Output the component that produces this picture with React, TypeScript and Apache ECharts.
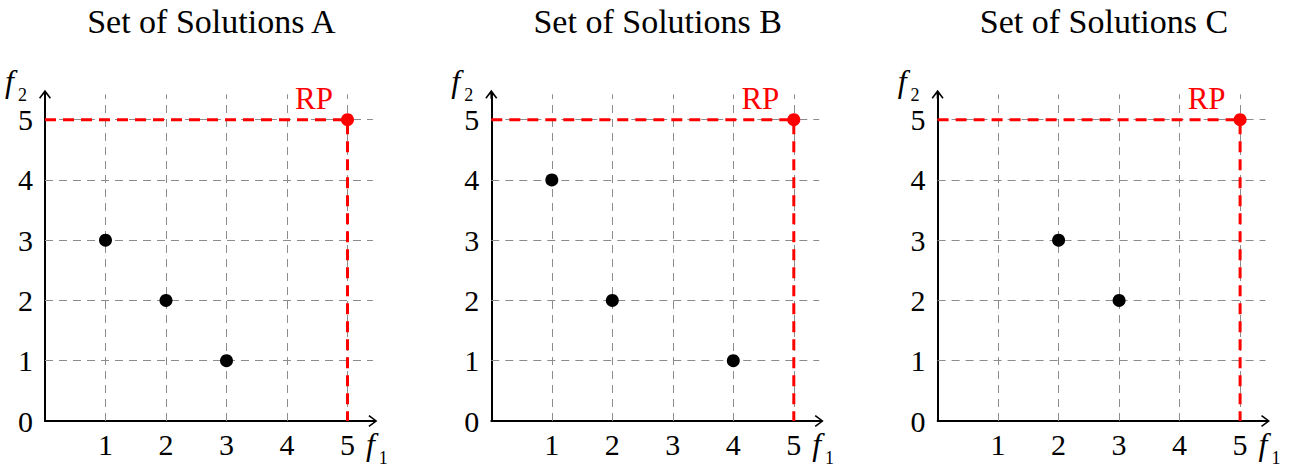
import React, { useEffect, useRef } from 'react';
import * as echarts from 'echarts';

const panelTitles = ['Set of Solutions A', 'Set of Solutions B', 'Set of Solutions C'];
const solutionsA = [[1, 3], [2, 2], [3, 1]];
const solutionsB = [[1, 4], [2, 2], [4, 1]];
const solutionsC = [[2, 3], [3, 2]];
const referencePoint = [5, 5];
const referenceLabel = 'RP';
const gridTicks = [1, 2, 3, 4, 5];
const xAxisName = ['f', '1'];
const yAxisName = ['f', '2'];

const FONT = 'Liberation Serif';
const AXIS_MAX = 5.42;
const UNIT_X = 60.5;
const UNIT_Y = 60.45;
const panelLefts = [45, 491.3, 937.6];
const originY = 422;

const arrowPath =
  'path://M6,0 L12,8 L10.8,9 L6.9,3.8 L6.9,9 L5.1,9 L5.1,3.8 L1.2,9 L0,8 Z';

export default function App() {
  const ref = useRef<HTMLDivElement>(null);
  useEffect(() => {
    if (!ref.current) return;
    const chart = echarts.init(ref.current, undefined, { renderer: 'svg' });
    const sets = [solutionsA, solutionsB, solutionsC];
    const gw = AXIS_MAX * UNIT_X;
    const gh = AXIS_MAX * UNIT_Y;
    const top = originY - gh;

    const grids = panelLefts.map((l) => ({ left: l, top, width: gw, height: gh }));
    const titles = panelLefts.map((l, i) => ({
      text: panelTitles[i],
      left: l + 2.75 * UNIT_X,
      top: 4,
      padding: 0,
      textAlign: 'center',
      textStyle: { fontFamily: FONT, fontSize: 34, fontWeight: 'normal', color: '#000' },
    }));

    const axisLine = {
      show: true,
      symbol: ['none', arrowPath],
      symbolSize: [12, 9],
      lineStyle: { color: '#000', width: 2 },
    };
    const richName = () => ({
      i: {
        fontFamily: FONT,
        fontStyle: 'italic',
        fontSize: 32,
        color: '#000',
        verticalAlign: 'bottom',
        padding: [0, 4, 7, 0],
      },
      s: { fontFamily: FONT, fontSize: 18, color: '#000', verticalAlign: 'bottom' },
    });

    const xAxes = panelLefts.map((_, i) => ({
      type: 'value',
      gridIndex: i,
      min: 0,
      max: AXIS_MAX,
      interval: 1,
      axisLine,
      axisTick: { show: false },
      splitLine: { show: false },
      axisLabel: {
        fontFamily: FONT,
        fontSize: 30,
        color: '#000',
        margin: 8,
        formatter: (v: number) => (Number.isInteger(v) && v !== 0 ? String(v) : ''),
      },
      name: `{i|${xAxisName[0]}}{s|${xAxisName[1]}}`,
      nameLocation: 'end',
      nameGap: -7,
      nameTextStyle: { padding: [53, 0, 0, 0], rich: richName() },
    }));
    const yAxes = panelLefts.map((_, i) => ({
      type: 'value',
      gridIndex: i,
      min: 0,
      max: AXIS_MAX,
      interval: 1,
      axisLine,
      axisTick: { show: false },
      splitLine: { show: false },
      axisLabel: {
        fontFamily: FONT,
        fontSize: 30,
        color: '#000',
        margin: 12,
        formatter: (v: number) => (Number.isInteger(v) ? String(v) : ''),
      },
      name: `{i|${yAxisName[0]}}{s|${yAxisName[1]}}`,
      nameLocation: 'end',
      nameGap: -10,
      nameTextStyle: { padding: [0, 58, 0, 0], rich: richName() },
    }));

    const series: any[] = [];
    sets.forEach((pts, i) => {
      const gridLines: any[] = [];
      gridTicks.forEach((t) => {
        gridLines.push([{ coord: [t, 0] }, { coord: [t, AXIS_MAX] }]);
        gridLines.push([{ coord: [0, t] }, { coord: [AXIS_MAX, t] }]);
      });
      series.push({
        type: 'scatter',
        xAxisIndex: i,
        yAxisIndex: i,
        data: [],
        z: 1,
        silent: true,
        markLine: {
          z: 1,
          silent: true,
          symbol: 'none',
          label: { show: false },
          lineStyle: { color: '#8c8c8c', width: 1, type: [8, 6], opacity: 1 },
          emphasis: { disabled: true },
          data: gridLines,
        },
      });
      series.push({
        type: 'line',
        xAxisIndex: i,
        yAxisIndex: i,
        z: 3,
        showSymbol: false,
        silent: true,
        lineStyle: { color: '#ff0000', width: 3, type: [11, 7], opacity: 1 },
        data: [[0, referencePoint[1]], referencePoint, [referencePoint[0], 0]],
      });
      series.push({
        type: 'scatter',
        xAxisIndex: i,
        yAxisIndex: i,
        z: 4,
        symbolSize: 13,
        itemStyle: { color: '#000', opacity: 1 },
        data: pts,
      });
      series.push({
        type: 'scatter',
        xAxisIndex: i,
        yAxisIndex: i,
        z: 5,
        symbolSize: 13,
        itemStyle: { color: '#ff0000', opacity: 1 },
        label: {
          show: true,
          formatter: referenceLabel,
          position: 'left',
          distance: 8,
          offset: [0, -21],
          fontFamily: FONT,
          fontSize: 31,
          color: '#ff0000',
        },
        data: [referencePoint],
      });
    });

    chart.setOption({
      animation: false,
      backgroundColor: '#fff',
      title: titles,
      grid: grids,
      xAxis: xAxes,
      yAxis: yAxes,
      series,
    });
    return () => chart.dispose();
  }, []);
  return (
    <div
      ref={ref}
      style={{ position: 'absolute', left: 0, top: 0, width: 1293, height: 467 }}
    />
  );
}
